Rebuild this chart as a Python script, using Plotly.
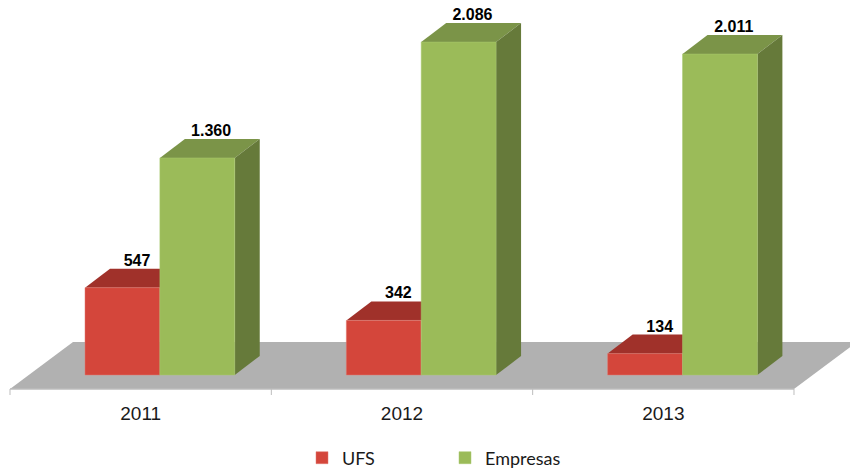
import plotly.graph_objects as go

years = ["2011", "2012", "2013"]
ufs = [547, 342, 134]
empresas = [1360, 2086, 2011]

RED, RED_TOP = "#D4463B", "#A0312A"
GREEN, GREEN_TOP, GREEN_SIDE = "#9BBB59", "#7B9448", "#667A3A"
FLOOR, AXIS = "#B1B1B1", "#BDBDBD"

W, H = 850, 490         # the window shows the top 470 px; the rest gives the legend room
PX_X = 261.33           # pixels per category
PX_Y = 0.1596           # pixels per value unit
BOTTOM = 395            # bottom of plot area in pixels
X0, Y0 = 10, 375        # pixel position of x=0, y=0
xr = [-X0 / PX_X, (W - X0) / PX_X]
yr = [(Y0 - BOTTOM) / PX_Y, Y0 / PX_Y]

BAR = 0.2865            # bar width in category units
OFF = 0.5735            # group centre within a category
DX, DY = 25 / PX_X, 19 / PX_Y          # bar depth
FDX, FDY = 63 / PX_X, 47 / PX_Y        # floor depth
FY = -14 / PX_Y         # floor front edge, below the bars
xpos = [i + OFF for i in range(len(years))]


def poly(xs, ys, color):
    return go.Scatter(x=xs, y=ys, mode="lines", fill="toself", fillcolor=color,
                      line=dict(width=0), hoverinfo="skip", showlegend=False,
                      xaxis="x", yaxis="y")


fig = go.Figure()
n = len(years)

# floor, drawn behind everything
fig.add_trace(poly([0, n, n + FDX, FDX, 0], [FY, FY, FY + FDY, FY + FDY, FY], FLOOR))
# axis line and ticks below the floor
ax_x, ax_y = [0, n], [FY, FY]
fig.add_trace(go.Scatter(x=ax_x, y=ax_y, mode="lines", line=dict(color=AXIS, width=1.5),
                         hoverinfo="skip", showlegend=False))
for i in range(n + 1):
    fig.add_trace(go.Scatter(x=[i, i], y=[FY, FY - 6 / PX_Y], mode="lines",
                             line=dict(color=AXIS, width=1), hoverinfo="skip", showlegend=False))

# top and side faces
for c, u, e in zip(xpos, ufs, empresas):
    l, m, r = c - BAR, c, c + BAR
    fig.add_trace(poly([l, m, m + DX, l + DX, l], [u, u, u + DY, u + DY, u], RED_TOP))
    fig.add_trace(poly([m, r, r + DX, m + DX, m], [e, e, e + DY, e + DY, e], GREEN_TOP))
    fig.add_trace(poly([r, r + DX, r + DX, r, r], [0, DY, e + DY, e, 0], GREEN_SIDE))

# front faces, on an overlaying axis pair so they sit above the faces
fig.add_trace(go.Bar(x=xpos, y=ufs, name="UFS", marker=dict(color=RED, line=dict(color="#E07A70", width=0.5)),
                     xaxis="x2", yaxis="y2", hoverinfo="skip"))
fig.add_trace(go.Bar(x=xpos, y=empresas, name="Empresas", marker=dict(color=GREEN, line=dict(color="#A9C86E", width=0.5)),
                     xaxis="x2", yaxis="y2", hoverinfo="skip"))

fmt = lambda v: f"{v:,}".replace(",", ".")
lab_font = dict(family="Liberation Sans", size=16, color="#000000", weight=700)
fig.add_trace(go.Scatter(x=[c - BAR / 2 + DX / 2 + 0.008 for c in xpos], y=[v + DY - 6 for v in ufs],
                         text=[fmt(v) for v in ufs], mode="text", textposition="top center",
                         textfont=lab_font, showlegend=False, hoverinfo="skip", xaxis="x2", yaxis="y2"))
fig.add_trace(go.Scatter(x=[c + BAR / 2 + DX / 2 + 0.005 for c in xpos], y=[v + DY - 6 for v in empresas],
                         text=[fmt(v) for v in empresas], mode="text", textposition="top center",
                         textfont=lab_font, showlegend=False, hoverinfo="skip", xaxis="x2", yaxis="y2"))

fig.update_layout(
    width=W, height=H, autosize=False,
    margin=dict(l=0, r=0, t=0, b=H - BOTTOM),
    paper_bgcolor="white", plot_bgcolor="white",
    barmode="group", bargap=1 - 2 * BAR, bargroupgap=0,
    showlegend=True,
    legend=dict(orientation="h", xanchor="left", yanchor="middle", x=302 / W, y=(BOTTOM - 458) / BOTTOM,
                entrywidth=98, entrywidthmode="pixels", traceorder="normal",
                font=dict(family="Lato", size=18, color="#1A1A1A"), bgcolor="rgba(0,0,0,0)"),
    xaxis=dict(range=xr, showgrid=False, zeroline=False, showline=False,
               tickvals=[i + 0.5 for i in range(n)], ticktext=years, ticks="",
               tickfont=dict(family="Liberation Sans", size=19, color="#1A1A1A"), ticklabelstandoff=5),
    yaxis=dict(range=yr, showgrid=False, zeroline=False, showline=False, showticklabels=False, ticks=""),
    xaxis2=dict(range=xr, overlaying="x", visible=False),
    yaxis2=dict(range=yr, overlaying="y", visible=False),
)
fig.write_html("out.html", config=dict(displayModeBar=False),
               post_script="document.body.style.margin='0';document.documentElement.style.overflow='hidden';document.body.style.overflow='hidden';")
